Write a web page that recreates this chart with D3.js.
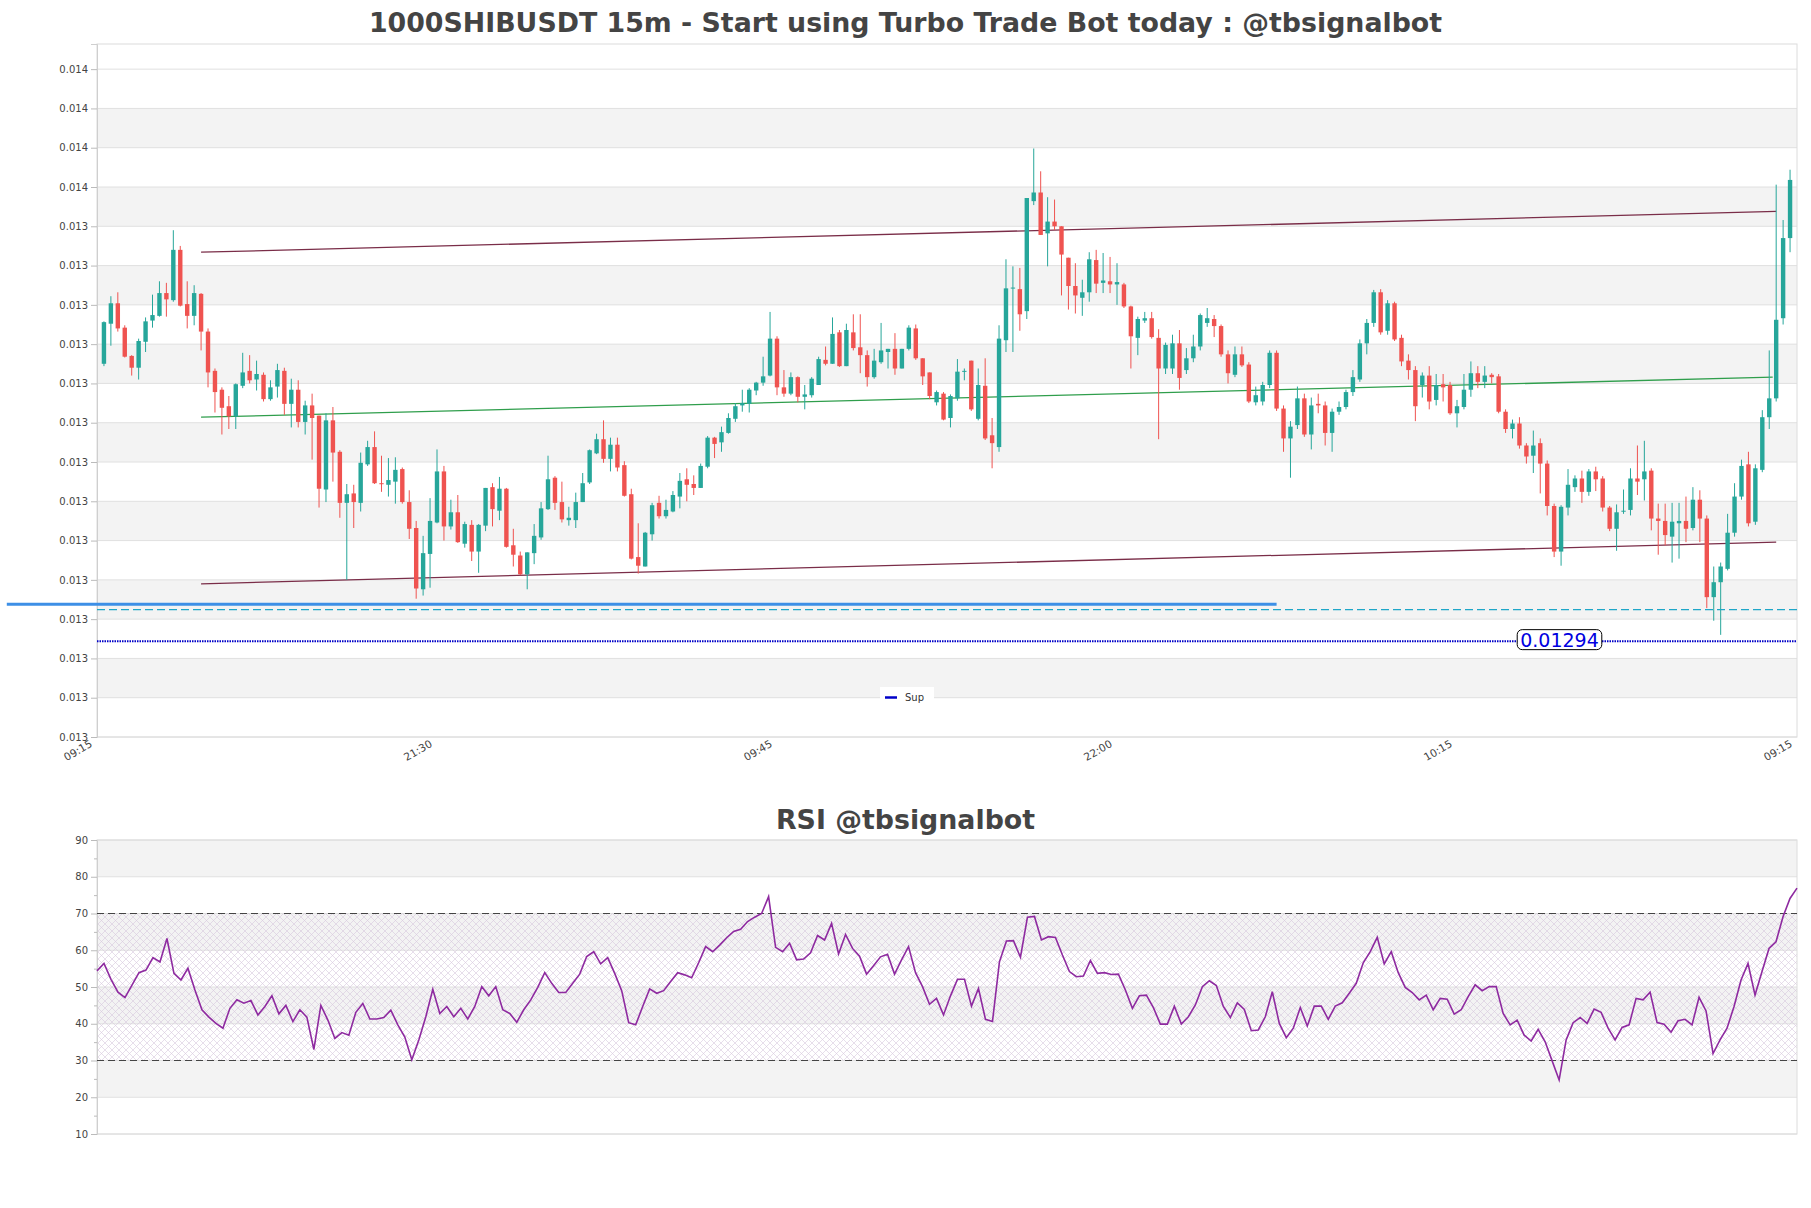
<!DOCTYPE html>
<html><head><meta charset="utf-8">
<script src="https://cdn.jsdelivr.net/npm/d3@7"></script>
<style>body{margin:0;background:#fff;} svg{display:block;font-family:"DejaVu Sans",sans-serif;}</style>
</head><body>
<svg id="chart" width="1811" height="1208"></svg>
<script>
// ---------------- DATA ----------------
const open = [0.013293,0.013344,0.013370,0.013339,0.013303,0.013288,0.013321,0.013348,0.013354,0.013383,
0.013374,0.013438,0.013369,0.013354,0.013382,0.013334,0.013284,0.013260,0.013239,0.013226,
0.013265,0.013284,0.013273,0.013279,0.013248,0.013264,0.013284,0.013242,0.013260,0.013219,
0.013240,0.013227,0.013133,0.013221,0.013181,0.013116,0.013128,0.013116,0.013165,0.013187,
0.013141,0.013139,0.013143,0.013159,0.013117,0.013084,0.013006,0.013051,0.013091,0.013156,
0.013086,0.013104,0.013064,0.013088,0.013054,0.013087,0.013136,0.013106,0.013134,0.013062,
0.013049,0.013025,0.013052,0.013072,0.013108,0.013148,0.013117,0.013094,0.013094,0.013117,
0.013142,0.013179,0.013197,0.013172,0.013190,0.013164,0.013127,0.013047,0.013035,0.013076,
0.013116,0.013099,0.013105,0.013124,0.013146,0.013140,0.013135,0.013162,0.013199,0.013193,
0.013205,0.013223,0.013240,0.013242,0.013259,0.013269,0.013278,0.013325,0.013263,0.013255,
0.013276,0.013251,0.013253,0.013266,0.013298,0.013293,0.013333,0.013290,0.013333,0.013314,
0.013304,0.013276,0.013295,0.013308,0.013312,0.013287,0.013312,0.013338,0.013300,0.013282,
0.013244,0.013255,0.013224,0.013249,0.013283,0.013297,0.013223,0.013265,0.013202,0.013187,
0.013323,0.013389,0.013388,0.013360,0.013500,0.013511,0.013459,0.013474,0.013468,0.013428,
0.013392,0.013377,0.013384,0.013425,0.013396,0.013398,0.013394,0.013394,0.013366,0.013326,
0.013348,0.013351,0.013326,0.013287,0.013287,0.013319,0.013285,0.013300,0.013315,0.013345,
0.013350,0.013341,0.013305,0.013279,0.013305,0.013292,0.013244,0.013245,0.013266,0.013307,
0.013236,0.013198,0.013215,0.013249,0.013203,0.013242,0.013240,0.013205,0.013232,0.013238,
0.013257,0.013273,0.013319,0.013345,0.013384,0.013335,0.013370,0.013326,0.013297,0.013285,
0.013266,0.013278,0.013247,0.013267,0.013266,0.013230,0.013238,0.013260,0.013281,0.013270,
0.013279,0.013277,0.013232,0.013210,0.013217,0.013189,0.013176,0.013192,0.013166,0.013112,
0.013054,0.013110,0.013136,0.013147,0.013130,0.013156,0.013147,0.013110,0.013083,0.013105,
0.013107,0.013147,0.013146,0.013157,0.013096,0.013093,0.013073,0.013090,0.013093,0.013084,
0.013120,0.013096,0.012996,0.013015,0.013032,0.013078,0.013124,0.013165,0.013092,0.013158,
0.013225,0.013249,0.013351,0.013453];
const high = [0.013347,0.013379,0.013384,0.013342,0.013304,0.013325,0.013352,0.013381,0.013398,0.013396,
0.013463,0.013443,0.013398,0.013393,0.013383,0.013338,0.013287,0.013263,0.013252,0.013268,
0.013307,0.013304,0.013297,0.013282,0.013272,0.013293,0.013288,0.013274,0.013272,0.013246,
0.013255,0.013227,0.013230,0.013238,0.013183,0.013140,0.013139,0.013180,0.013195,0.013207,
0.013176,0.013173,0.013174,0.013161,0.013132,0.013093,0.013074,0.013122,0.013184,0.013163,
0.013120,0.013126,0.013092,0.013094,0.013089,0.013135,0.013141,0.013149,0.013135,0.013083,
0.013054,0.013053,0.013089,0.013117,0.013176,0.013150,0.013143,0.013111,0.013129,0.013154,
0.013184,0.013204,0.013221,0.013199,0.013199,0.013169,0.013134,0.013090,0.013079,0.013116,
0.013125,0.013120,0.013131,0.013154,0.013160,0.013151,0.013166,0.013201,0.013200,0.013213,
0.013230,0.013243,0.013260,0.013262,0.013270,0.013302,0.013359,0.013328,0.013285,0.013282,
0.013277,0.013266,0.013276,0.013302,0.013315,0.013352,0.013336,0.013344,0.013356,0.013356,
0.013310,0.013312,0.013345,0.013312,0.013332,0.013312,0.013342,0.013343,0.013300,0.013282,
0.013259,0.013257,0.013254,0.013299,0.013287,0.013297,0.013287,0.013300,0.013224,0.013342,
0.013426,0.013417,0.013415,0.013504,0.013567,0.013538,0.013505,0.013502,0.013468,0.013428,
0.013421,0.013400,0.013435,0.013438,0.013434,0.013429,0.013421,0.013396,0.013367,0.013353,
0.013359,0.013359,0.013337,0.013320,0.013330,0.013336,0.013313,0.013330,0.013357,0.013364,
0.013355,0.013343,0.013310,0.013315,0.013315,0.013295,0.013264,0.013270,0.013310,0.013310,
0.013240,0.013220,0.013264,0.013255,0.013250,0.013255,0.013245,0.013236,0.013245,0.013260,
0.013285,0.013324,0.013350,0.013387,0.013388,0.013374,0.013372,0.013330,0.013305,0.013290,
0.013282,0.013290,0.013280,0.013280,0.013270,0.013247,0.013280,0.013296,0.013290,0.013290,
0.013281,0.013280,0.013235,0.013222,0.013225,0.013192,0.013208,0.013198,0.013170,0.013115,
0.013113,0.013159,0.013151,0.013157,0.013159,0.013162,0.013150,0.013112,0.013114,0.013133,
0.013160,0.013189,0.013195,0.013160,0.013115,0.013115,0.013116,0.013116,0.013124,0.013136,
0.013132,0.013100,0.013035,0.013040,0.013102,0.013141,0.013171,0.013181,0.013165,0.013234,
0.013310,0.013521,0.013476,0.013540];
const low = [0.013290,0.013316,0.013334,0.013301,0.013278,0.013273,0.013308,0.013339,0.013353,0.013353,
0.013372,0.013366,0.013338,0.013342,0.013310,0.013263,0.013231,0.013203,0.013210,0.013210,
0.013262,0.013268,0.013259,0.013245,0.013246,0.013250,0.013228,0.013212,0.013212,0.013203,
0.013171,0.013110,0.013117,0.013143,0.013097,0.013018,0.013084,0.013105,0.013163,0.013140,
0.013130,0.013124,0.013115,0.013115,0.013070,0.012994,0.012998,0.013008,0.013090,0.013068,
0.013082,0.013065,0.013059,0.013042,0.013027,0.013080,0.013086,0.013094,0.013059,0.013035,
0.013024,0.013006,0.013038,0.013069,0.013107,0.013107,0.013091,0.013087,0.013084,0.013117,
0.013140,0.013178,0.013167,0.013156,0.013156,0.013124,0.013044,0.013026,0.013035,0.013068,
0.013096,0.013096,0.013104,0.013109,0.013118,0.013126,0.013135,0.013160,0.013173,0.013181,
0.013204,0.013219,0.013232,0.013231,0.013253,0.013265,0.013277,0.013253,0.013251,0.013253,
0.013244,0.013235,0.013250,0.013266,0.013291,0.013293,0.013289,0.013290,0.013310,0.013281,
0.013264,0.013274,0.013293,0.013287,0.013279,0.013287,0.013310,0.013298,0.013266,0.013248,
0.013240,0.013221,0.013212,0.013246,0.013272,0.013233,0.013221,0.013196,0.013160,0.013181,
0.013308,0.013308,0.013335,0.013350,0.013495,0.013457,0.013417,0.013463,0.013380,0.013362,
0.013357,0.013354,0.013372,0.013383,0.013383,0.013383,0.013368,0.013364,0.013287,0.013304,
0.013345,0.013325,0.013197,0.013280,0.013280,0.013260,0.013280,0.013295,0.013310,0.013340,
0.013327,0.013302,0.013268,0.013276,0.013289,0.013243,0.013240,0.013240,0.013262,0.013233,
0.013181,0.013148,0.013210,0.013200,0.013184,0.013230,0.013189,0.013181,0.013228,0.013235,
0.013252,0.013270,0.013305,0.013340,0.013330,0.013330,0.013322,0.013290,0.013273,0.013220,
0.013250,0.013235,0.013240,0.013245,0.013228,0.013212,0.013235,0.013251,0.013262,0.013262,
0.013268,0.013230,0.013205,0.013198,0.013185,0.013166,0.013154,0.013128,0.013100,0.013047,
0.013036,0.013100,0.013130,0.013116,0.013125,0.013131,0.013105,0.013080,0.013055,0.013102,
0.013100,0.013126,0.013119,0.013081,0.013050,0.013062,0.013040,0.013045,0.013066,0.013081,
0.013066,0.012982,0.012966,0.012948,0.013030,0.013073,0.013120,0.013086,0.013088,0.013155,
0.013210,0.013245,0.013343,0.013435];
const close = [0.013346,0.013370,0.013338,0.013302,0.013288,0.013322,0.013347,0.013355,0.013383,0.013375,
0.013438,0.013367,0.013354,0.013383,0.013334,0.013282,0.013257,0.013237,0.013226,0.013267,
0.013282,0.013272,0.013280,0.013248,0.013263,0.013285,0.013242,0.013260,0.013219,0.013240,
0.013224,0.013134,0.013221,0.013180,0.013116,0.013127,0.013117,0.013167,0.013187,0.013141,
0.013140,0.013145,0.013158,0.013117,0.013083,0.013007,0.013052,0.013093,0.013156,0.013086,
0.013104,0.013066,0.013089,0.013054,0.013088,0.013135,0.013108,0.013134,0.013060,0.013050,
0.013025,0.013053,0.013074,0.013109,0.013146,0.013116,0.013095,0.013097,0.013117,0.013141,
0.013183,0.013197,0.013172,0.013190,0.013161,0.013125,0.013045,0.013036,0.013078,0.013113,
0.013099,0.013107,0.013126,0.013144,0.013139,0.013135,0.013163,0.013199,0.013191,0.013206,
0.013224,0.013239,0.013243,0.013260,0.013269,0.013277,0.013325,0.013263,0.013255,0.013276,
0.013251,0.013254,0.013274,0.013299,0.013293,0.013331,0.013290,0.013336,0.013313,0.013304,
0.013276,0.013297,0.013310,0.013312,0.013287,0.013312,0.013339,0.013300,0.013277,0.013252,
0.013257,0.013222,0.013252,0.013283,0.013284,0.013235,0.013266,0.013198,0.013192,0.013325,
0.013389,0.013390,0.013356,0.013504,0.013511,0.013457,0.013474,0.013468,0.013432,0.013392,
0.013380,0.013384,0.013426,0.013395,0.013399,0.013394,0.013397,0.013366,0.013328,0.013350,
0.013351,0.013327,0.013287,0.013317,0.013319,0.013275,0.013300,0.013315,0.013355,0.013351,
0.013341,0.013305,0.013281,0.013305,0.013291,0.013245,0.013253,0.013266,0.013307,0.013236,
0.013198,0.013213,0.013249,0.013203,0.013240,0.013240,0.013205,0.013232,0.013238,0.013257,
0.013276,0.013319,0.013345,0.013384,0.013333,0.013370,0.013324,0.013296,0.013285,0.013239,
0.013278,0.013245,0.013266,0.013263,0.013230,0.013239,0.013260,0.013281,0.013270,0.013278,
0.013276,0.013232,0.013210,0.013217,0.013189,0.013175,0.013189,0.013166,0.013112,0.013054,
0.013111,0.013139,0.013147,0.013130,0.013156,0.013146,0.013110,0.013083,0.013104,0.013106,
0.013147,0.013143,0.013156,0.013096,0.013093,0.013075,0.013092,0.013093,0.013083,0.013120,
0.013096,0.012996,0.013015,0.013035,0.013078,0.013124,0.013163,0.013090,0.013160,0.013225,
0.013249,0.013349,0.013453,0.013527];
const rsi = [54.4,56.4,52.1,48.6,47.1,50.5,53.9,54.6,58.0,56.8,
63.2,53.7,51.9,55.1,49.2,43.8,41.8,40.1,38.8,44.2,
46.5,45.6,46.3,42.4,44.7,47.6,42.7,45.0,40.6,43.8,
41.8,33.0,45.0,41.0,36.0,37.6,36.9,43.1,45.5,41.3,
41.3,41.7,43.7,39.7,36.4,30.2,35.6,41.9,49.4,42.8,
44.7,41.9,44.2,41.3,44.7,50.1,47.6,50.1,43.8,42.8,
40.4,43.8,46.5,49.9,53.9,51.0,48.5,48.5,51.0,53.5,
58.3,59.6,56.3,58.0,53.7,49.0,40.3,39.7,44.7,49.5,
48.3,49.0,51.5,53.9,53.3,52.5,56.6,61.0,59.6,61.4,
63.4,65.1,65.7,67.8,69.0,70.0,74.6,60.8,59.6,61.9,
57.4,57.6,59.3,64.0,62.8,67.3,59.0,64.3,60.5,58.4,
53.5,55.8,58.2,58.9,53.5,57.4,61.0,53.9,50.1,45.3,
46.9,42.4,47.6,52.1,52.1,44.8,49.6,41.2,40.6,56.9,
62.5,62.6,58.1,69.0,69.2,62.8,63.7,63.5,58.7,54.2,
52.8,53.0,57.2,53.7,53.9,53.4,53.5,49.2,44.2,47.6,
47.8,44.4,39.9,39.9,44.8,39.9,41.9,45.1,50.1,51.7,
50.4,44.7,41.7,45.7,43.9,38.1,38.3,41.9,48.7,40.1,
36.2,38.8,44.4,39.4,44.8,44.8,41.2,44.8,45.7,48.3,
51.0,56.6,59.6,63.5,56.3,59.6,53.9,49.9,48.5,46.5,
47.8,43.8,46.9,46.7,42.6,43.8,47.4,50.6,49.0,50.1,
50.1,42.8,39.7,41.0,36.9,35.3,38.5,35.1,29.9,24.7,
35.6,40.3,41.7,40.1,44.0,43.1,38.8,35.6,39.0,39.7,
46.9,46.5,48.6,40.3,39.9,37.7,40.8,41.2,39.7,47.2,
43.5,31.9,35.6,38.8,44.7,51.9,56.4,47.8,54.2,60.5,
62.3,69.1,74.1,76.9];
const xTickIndex = [0,49,98,147,196,245];
const xTickLabels = ["09:15","21:30","09:45","22:00","10:15","09:15"];
const yTickValues = [0.012818,0.012868,0.012918,0.012968,0.013018,0.013068,0.013118,0.013168,0.013218,
0.013268,0.013318,0.013368,0.013418,0.013468,0.013518,0.013568,0.013618,0.013668];
const yTop = 0.013700;
const rsiTicks = [10,20,30,40,50,60,70,80,90];
const rsiMinorTicks = [15,25,35,45,55,65,75,85];
const rsiLevels = [70,30];
const supLevel = 0.01294;
const supLabel = "0.01294";
const zoneLevel = 0.012987;        // thick blue line
const zoneRange = [-13,170];
const dashLevel = 0.012980;        // dashed cyan line
const trendStart = [15,15,15];
const trendEnd = [242,241.5,242];
const trendStartVal = [0.013435,0.013225,0.013013];
const trendEndVal = [0.013487,0.013276,0.013066];
const trendColor = ["#7a2d48","#2f9e4c","#7a2d48"];

// ---------------- DRAW ----------------
const svg = d3.select("#chart");
svg.append("rect").attr("width",1811).attr("height",1208).attr("fill","#fff");
const P = {l:97, r:1797, t:44, b:737};
const x = d3.scaleLinear().domain([0, open.length+1]).range([P.l,P.r]);
const y = d3.scaleLinear().domain([yTickValues[0], yTop]).range([P.b,P.t]);
const font = "DejaVu Sans, sans-serif";

svg.append("text").attr("x",905.5).attr("y",32).attr("text-anchor","middle")
  .attr("font-size",26.8).attr("font-weight","bold").attr("fill","#444").attr("font-family",font)
  .text("1000SHIBUSDT 15m - Start using Turbo Trade Bot today : @tbsignalbot");

const main = svg.append("g");
for (let k=1;k<yTickValues.length-1;k+=2){
  main.append("rect").attr("x",P.l).attr("width",P.r-P.l)
    .attr("y",y(yTickValues[k+1])).attr("height",y(yTickValues[k])-y(yTickValues[k+1]))
    .attr("fill","#f3f3f3");
}
main.selectAll(".grid").data(yTickValues).join("line")
  .attr("x1",P.l).attr("x2",P.r).attr("y1",d=>y(d)).attr("y2",d=>y(d))
  .attr("stroke","#e0e0e0").attr("stroke-width",1);
main.append("rect").attr("x",P.l).attr("y",P.t).attr("width",P.r-P.l).attr("height",P.b-P.t)
  .attr("fill","none").attr("stroke","#dcdcdc");

const yAxis = main.append("g").attr("transform",`translate(${P.l},0)`)
  .call(d3.axisLeft(y).tickValues(yTickValues).tickFormat(d3.format(".3f")).tickSize(6).tickPadding(3));
yAxis.select(".domain").attr("stroke","#cfcfcf");
yAxis.selectAll(".tick line").attr("stroke","#bbb");
yAxis.selectAll("text").attr("font-size",10).attr("fill","#444").attr("font-family",font);

const xg = main.append("g");
xg.selectAll("text").data(xTickIndex).join("text")
  .attr("transform",d=>`translate(${x(d)-4},${P.b+9}) rotate(-30)`)
  .attr("text-anchor","end").attr("font-size",10.6).attr("fill","#444").attr("font-family",font)
  .text((d,i)=>xTickLabels[i]);

trendStart.forEach((s,i)=>{
  main.append("line").attr("x1",x(s)).attr("x2",x(trendEnd[i]))
    .attr("y1",y(trendStartVal[i])).attr("y2",y(trendEndVal[i]))
    .attr("stroke",trendColor[i]).attr("stroke-width",1.3);
});

const n = open.length;
const bw = 4.4;
const cg = main.append("g");
d3.range(n).forEach(i=>{
  const up = close[i] >= open[i];
  const col = up ? "#26a69a" : "#ef5350";
  const cx = x(i+1);
  cg.append("line").attr("x1",cx).attr("x2",cx).attr("y1",y(high[i])).attr("y2",y(low[i]))
    .attr("stroke",col).attr("stroke-width",1);
  const yt = y(Math.max(open[i],close[i])), yb = y(Math.min(open[i],close[i]));
  cg.append("rect").attr("x",cx-bw/2).attr("width",bw).attr("y",yt).attr("height",Math.max(1,yb-yt))
    .attr("fill",col);
});

main.append("line").attr("x1",x(zoneRange[0])).attr("x2",x(zoneRange[1]))
  .attr("y1",y(zoneLevel)).attr("y2",y(zoneLevel)).attr("stroke","#3d8fe6").attr("stroke-width",3);
main.append("line").attr("x1",P.l).attr("x2",P.r).attr("y1",y(dashLevel)).attr("y2",y(dashLevel))
  .attr("stroke","#1fa6c8").attr("stroke-width",1.2).attr("stroke-dasharray","8,4");
main.append("line").attr("x1",P.l).attr("x2",P.r).attr("y1",y(supLevel)).attr("y2",y(supLevel))
  .attr("stroke","#0000c8").attr("stroke-width",2).attr("stroke-dasharray","1.5,1");

const lab = main.append("g");
const lt = lab.append("text").attr("x",1559.5).attr("y",y(supLevel)+5.5).attr("text-anchor","middle")
  .attr("font-size",19).attr("fill","#0000e0").attr("font-family",font).text(supLabel);
const bb = lt.node().getBBox();
lab.insert("rect","text").attr("x",bb.x-3).attr("y",bb.y+1).attr("width",bb.width+6).attr("height",bb.height-2)
  .attr("rx",5).attr("fill","#fff").attr("stroke","#000").attr("stroke-width",1);

const lg = main.append("g");
lg.append("rect").attr("x",880).attr("y",687).attr("width",54).attr("height",20).attr("fill","#fff");
lg.append("line").attr("x1",885).attr("x2",897).attr("y1",697.5).attr("y2",697.5).attr("stroke","#0000c8").attr("stroke-width",2.5);
lg.append("text").attr("x",905).attr("y",701).attr("font-size",10).attr("fill","#333").attr("font-family",font).text("Sup");

// ---------------- RSI ----------------
const R = {l:97, r:1797, t:840, b:1134};
const xr = d3.scaleLinear().domain([0, rsi.length-1]).range([R.l,R.r]);
const yr = d3.scaleLinear().domain([10,90]).range([R.b,R.t]);
svg.append("text").attr("x",905.5).attr("y",829).attr("text-anchor","middle")
  .attr("font-size",26.8).attr("font-weight","bold").attr("fill","#444").attr("font-family",font)
  .text("RSI @tbsignalbot");
const defs = svg.append("defs");
const pat = defs.append("pattern").attr("id","hatch").attr("patternUnits","userSpaceOnUse").attr("width",7).attr("height",7);
pat.append("path").attr("d","M0,0L7,7M7,0L0,7").attr("stroke","#d6c8de").attr("stroke-width",0.6);
const rg = svg.append("g");
[[80,90],[60,70],[40,50],[20,30]].forEach(b=>{
  rg.append("rect").attr("x",R.l).attr("width",R.r-R.l).attr("y",yr(b[1])).attr("height",yr(b[0])-yr(b[1])).attr("fill","#f3f3f3");
});
rg.selectAll(".g").data(rsiTicks).join("line").attr("x1",R.l).attr("x2",R.r)
  .attr("y1",d=>yr(d)).attr("y2",d=>yr(d)).attr("stroke","#e0e0e0");
rg.append("rect").attr("x",R.l).attr("width",R.r-R.l).attr("y",yr(70)).attr("height",yr(30)-yr(70)).attr("fill","url(#hatch)");
rg.append("rect").attr("x",R.l).attr("y",R.t).attr("width",R.r-R.l).attr("height",R.b-R.t).attr("fill","none").attr("stroke","#dcdcdc");
const ra = rg.append("g").attr("transform",`translate(${R.l},0)`)
  .call(d3.axisLeft(yr).tickValues(rsiTicks).tickFormat(d3.format("d")).tickSize(6).tickPadding(3));
ra.select(".domain").attr("stroke","#cfcfcf");
ra.selectAll(".tick line").attr("stroke","#bbb");
ra.selectAll("text").attr("font-size",10).attr("fill","#444").attr("font-family",font);
const rm = rg.append("g").attr("transform",`translate(${R.l},0)`)
  .call(d3.axisLeft(yr).tickValues(rsiMinorTicks).tickFormat("").tickSize(3));
rm.select(".domain").remove();
rm.selectAll(".tick line").attr("stroke","#bbb");
rsiLevels.forEach(v=>{
  rg.append("line").attr("x1",R.l).attr("x2",R.r).attr("y1",yr(v)).attr("y2",yr(v))
    .attr("stroke","#444").attr("stroke-width",1.2).attr("stroke-dasharray","7,4");
});
rg.append("path").datum(rsi).attr("fill","none").attr("stroke","#8e2aa0").attr("stroke-width",1.6)
  .attr("d",d3.line().x((d,i)=>xr(i)).y(d=>yr(d)));
</script>
</body></html>
